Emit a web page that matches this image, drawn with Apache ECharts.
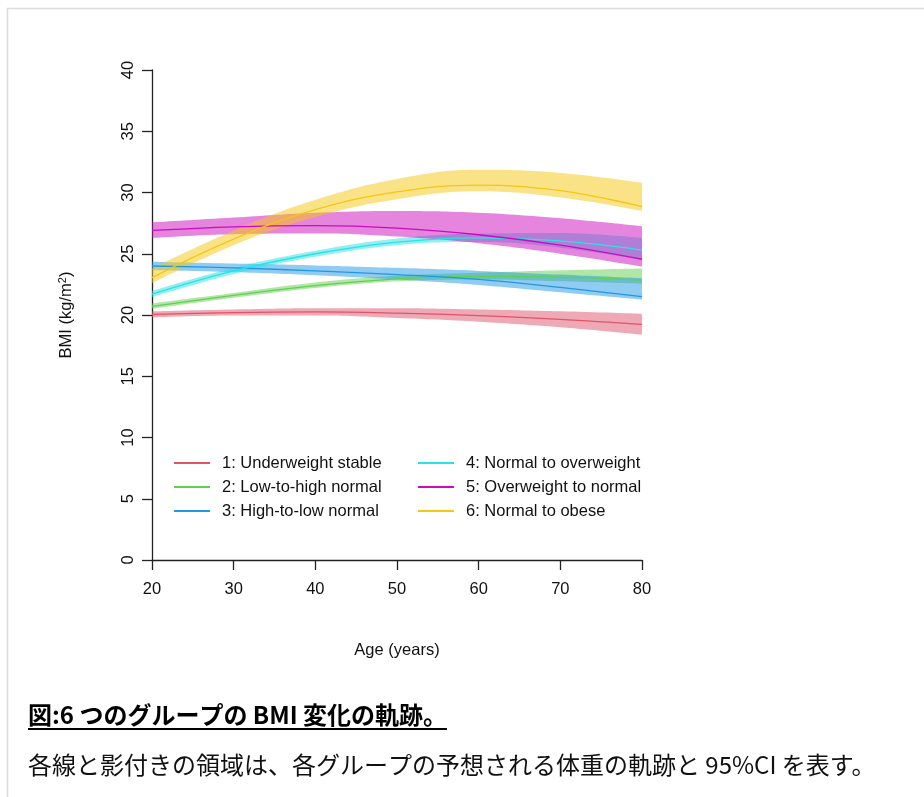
<!DOCTYPE html>
<html>
<head>
<meta charset="utf-8">
<script src="https://cdn.jsdelivr.net/npm/echarts@6/dist/echarts.min.js"></script>
<style>
html,body{margin:0;padding:0;background:#fff;}
#chart{width:924px;height:797px;}
</style>
</head>
<body>
<div id="chart"></div>
<script>
// ---- data ----
const ages = ['20', '30', '40', '50', '60', '70', '80'];
const groupNames = [
  '1: Underweight stable',
  '2: Low-to-high normal',
  '3: High-to-low normal',
  '4: Normal to overweight',
  '5: Overweight to normal',
  '6: Normal to obese'
];
const colors = ['#DF536B', '#61D04F', '#2297E6', '#28E2E5', '#CD0BBC', '#F5C710'];

const mean1  = [20.05, 20.2, 20.25, 20.15, 19.95, 19.65, 19.24];
const lower1 = [19.8, 19.95, 19.95, 19.75, 19.45, 19.0, 18.4];
const upper1 = [20.3, 20.45, 20.55, 20.55, 20.45, 20.3, 20.1];

const mean2  = [20.7, 21.6, 22.4, 22.95, 23.15, 23.1, 22.85];
const lower2 = [20.5, 21.4, 22.2, 22.75, 22.9, 22.75, 22.55];
const upper2 = [20.95, 21.8, 22.65, 23.2, 23.45, 23.65, 23.8];

const mean3  = [24.0, 23.85, 23.6, 23.3, 22.9, 22.25, 21.5];
const lower3 = [23.65, 23.5, 23.25, 22.9, 22.45, 21.85, 21.25];
const upper3 = [24.35, 24.2, 24.05, 23.85, 23.6, 23.3, 23.0];

const mean4  = [21.7, 23.6, 25.0, 25.95, 26.3, 26.05, 25.3];
const lower4 = [21.45, 23.35, 24.75, 25.7, 25.95, 25.5, 24.5];
const upper4 = [21.95, 23.85, 25.25, 26.25, 26.65, 26.7, 26.3];

const mean5  = [26.9, 27.2, 27.3, 27.1, 26.55, 25.7, 24.55];
const lower5 = [26.3, 26.6, 26.65, 26.4, 25.85, 25.0, 23.95];
const upper5 = [27.55, 27.95, 28.35, 28.5, 28.35, 27.9, 27.25];

const mean6  = [23.05, 26.2, 28.6, 30.05, 30.6, 30.15, 28.85];
const lower6 = [22.6, 25.7, 28.0, 29.45, 30.1, 29.6, 28.5];
const upper6 = [23.8, 26.9, 29.4, 31.1, 31.85, 31.6, 30.8];

const yTicks = [0, 5, 10, 15, 20, 25, 30, 35, 40];

const means = [mean1, mean2, mean3, mean4, mean5, mean6];
const lowers = [lower1, lower2, lower3, lower4, lower5, lower6];
const uppers = [upper1, upper2, upper3, upper4, upper5, upper6];

function hexA(hex, a) {
  const r = parseInt(hex.slice(1,3),16), g = parseInt(hex.slice(3,5),16), b = parseInt(hex.slice(5,7),16);
  return 'rgba(' + r + ',' + g + ',' + b + ',' + a + ')';
}

const FONT = '"Liberation Sans", Arial, Helvetica, sans-serif';
const FS = 16.5;
const SMOOTH = 0.4;
const series = [];
for (let i = 0; i < 6; i++) {
  const stack = 'band' + i;
  series.push({
    type: 'line', name: 'lo' + i, stack: stack, smooth: SMOOTH, symbol: 'none', silent: true,
    data: lowers[i].slice(),
    lineStyle: { opacity: 0 }
  });
  series.push({
    type: 'line', name: 'band' + i, stack: stack, smooth: SMOOTH, symbol: 'none', silent: true,
    data: uppers[i].map((u, k) => +(u - lowers[i][k]).toFixed(3)),
    lineStyle: { opacity: 0 },
    areaStyle: { color: hexA(colors[i], 0.5), opacity: 1 }
  });
  series.push({
    type: 'line', name: groupNames[i], smooth: SMOOTH, symbol: 'none',
    data: means[i].slice(),
    lineStyle: { color: colors[i], width: 1.3 },
    itemStyle: { color: colors[i] }
  });
}

const legendCommon = {
  orient: 'vertical', icon: 'rect', itemWidth: 36, itemHeight: 2, itemGap: 0,
  textStyle: { fontFamily: FONT, fontSize: FS, color: '#111', lineHeight: 24, padding: [0, 0, 0, 7] },
  selectedMode: false
};

const chart = echarts.init(document.getElementById('chart'), null, { renderer: 'canvas' });
chart.setOption({
  animation: false,
  backgroundColor: '#fff',
  grid: { left: 152, top: 70, right: 282, bottom: 237, containLabel: false },
  xAxis: {
    type: 'category', data: ages, boundaryGap: false,
    name: 'Age (years)', nameLocation: 'middle', nameGap: 82,
    nameTextStyle: { fontFamily: FONT, fontSize: FS, color: '#111' },
    axisLine: { show: true, lineStyle: { color: '#222', width: 1.3 } },
    axisTick: { show: true, length: 10, alignWithLabel: true, lineStyle: { color: '#222', width: 1.3 } },
    axisLabel: { fontFamily: FONT, fontSize: FS, color: '#111', margin: 21, interval: 0 },
    splitLine: { show: false }
  },
  yAxis: {
    type: 'value', min: 0, max: 40, interval: 5,
    name: 'BMI (kg/m{sup|2})', nameLocation: 'middle', nameGap: 76, nameRotate: 90,
    nameTextStyle: { fontFamily: FONT, fontSize: FS, color: '#111',
      rich: { sup: { fontFamily: FONT, fontSize: 11, color: '#111', verticalAlign: 'top', padding: [0, 0, 8, 0] } } },
    axisLine: { show: true, lineStyle: { color: '#222', width: 1.3 } },
    axisTick: { show: true, length: 10, lineStyle: { color: '#222', width: 1.3 } },
    axisLabel: { fontFamily: FONT, fontSize: FS, color: '#111', rotate: 90, margin: 15,
      formatter: v => yTicks.includes(v) ? String(v) : '' },
    splitLine: { show: false }
  },
  legend: [
    Object.assign({ left: 169, top: 446, data: groupNames.slice(0, 3) }, legendCommon),
    Object.assign({ left: 413, top: 446, data: groupNames.slice(3, 6) }, legendCommon)
  ],
  series: series,
  graphic: [
    { type: 'line', shape: { x1: 7, y1: 8.5, x2: 924, y2: 8.5 }, style: { stroke: '#dcdcdc', lineWidth: 1.5 }, silent: true },
    { type: 'line', shape: { x1: 7.5, y1: 8, x2: 7.5, y2: 797 }, style: { stroke: '#dcdcdc', lineWidth: 1.5 }, silent: true },
    { type: 'text', left: 28, top: 703, style: { text: '図:6 つのグループの BMI 変化の軌跡。', fontFamily: '"Noto Sans CJK JP", sans-serif', fontWeight: 'bold', fontSize: 24, fill: '#000' } },
    { type: 'line', shape: { x1: 28, y1: 729, x2: 447, y2: 729 }, style: { stroke: '#000', lineWidth: 2 }, silent: true },
    { type: 'text', left: 28, top: 753, style: { text: '各線と影付きの領域は、各グループの予想される体重の軌跡と 95%CI を表す。', fontFamily: '"Noto Sans CJK JP", sans-serif', fontSize: 24, fill: '#111' } }
  ]
});
</script>
</body>
</html>
